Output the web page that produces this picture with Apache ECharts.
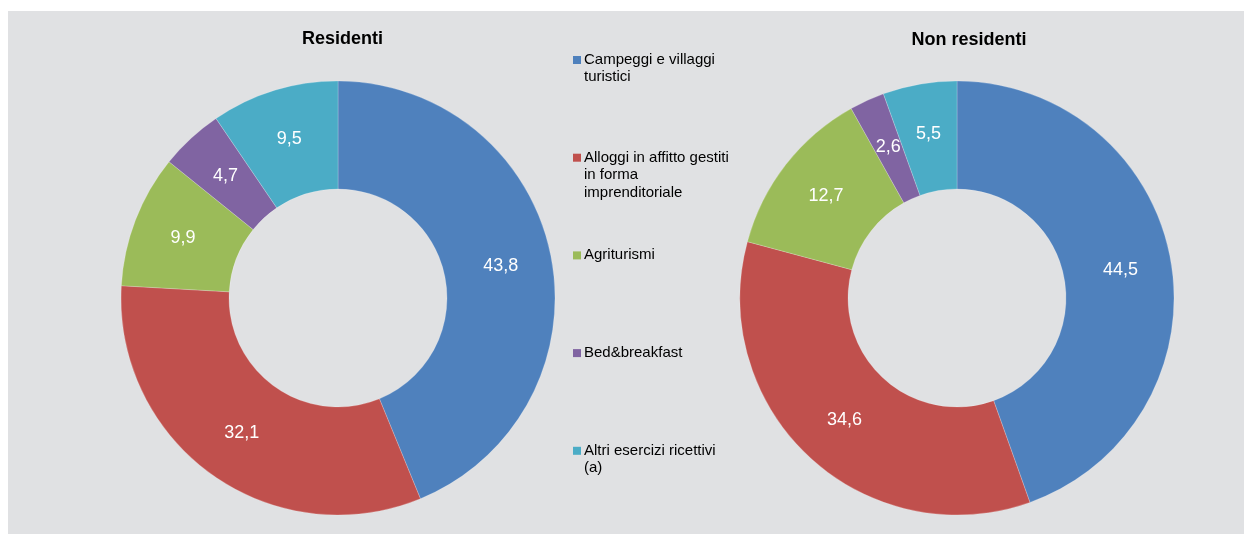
<!DOCTYPE html>
<html>
<head>
<meta charset="utf-8">
<script src="https://cdn.jsdelivr.net/npm/echarts@6/dist/echarts.min.js"></script>
<style>
  html, body { margin: 0; padding: 0; background: #ffffff; }
  #wrap { position: relative; width: 1244px; height: 534px; background: #ffffff; overflow: hidden; }
  #bg { position: absolute; left: 8px; top: 11px; right: 0; bottom: 0; background: #e0e1e3; }
  #chart { position: absolute; left: 0; top: 0; width: 1244px; height: 534px; }
</style>
</head>
<body>
<div id="wrap"><div id="bg"></div><div id="chart"></div></div>
<script>
var categories = [
  "Campeggi e villaggi turistici",
  "Alloggi in affitto gestiti in forma imprenditoriale",
  "Agriturismi",
  "Bed&breakfast",
  "Altri esercizi ricettivi (a)"
];
var legendLabels = [
  "Campeggi e villaggi\nturistici",
  "Alloggi in affitto gestiti\nin forma\nimprenditoriale",
  "Agriturismi",
  "Bed&breakfast",
  "Altri esercizi ricettivi\n(a)"
];
var residenti = [43.8, 32.1, 9.9, 4.7, 9.5];
var nonResidenti = [44.5, 34.6, 12.7, 2.6, 5.5];
var titles = ["Residenti", "Non residenti"];

var colors = ["#4f81bd", "#c0504d", "#9bbb59", "#8064a2", "#4bacc6"];
var FONT = "'Liberation Sans', Arial, Helvetica, sans-serif";

function toData(vals) {
  return vals.map(function (v, i) { return { name: categories[i], value: v }; });
}

function pieSeries(vals, cx) {
  return {
    type: 'pie',
    center: [cx, 298],
    radius: [109, 217],
    startAngle: 90,
    clockwise: true,
    avoidLabelOverlap: false,
    silent: true,
    itemStyle: { borderColor: 'rgba(255,255,255,0.35)', borderWidth: 0.6 },
    label: {
      show: true,
      position: 'inside',
      color: '#ffffff',
      fontSize: 18,
      fontFamily: FONT,
      formatter: function (p) { return p.value.toFixed(1).replace('.', ','); }
    },
    labelLine: { show: false },
    emphasis: { disabled: true },
    data: toData(vals)
  };
}

var graphics = [];
graphics.push({
  type: 'text', x: 342.5, y: 39,
  style: { text: titles[0], font: 'bold 18px ' + FONT, fill: '#000', align: 'center', verticalAlign: 'middle' }
});
graphics.push({
  type: 'text', x: 969, y: 40,
  style: { text: titles[1], font: 'bold 18px ' + FONT, fill: '#000', align: 'center', verticalAlign: 'middle' }
});
legendLabels.forEach(function (lab, i) {
  var top = 56 + i * 97.7;
  graphics.push({
    type: 'rect', shape: { x: 573, y: top, width: 8, height: 8 },
    style: { fill: colors[i] }
  });
  graphics.push({
    type: 'text', x: 584, y: top - 5,
    style: { text: lab, font: '15px ' + FONT, lineHeight: 17.5, fill: '#000', align: 'left', verticalAlign: 'top' }
  });
});

var chart = echarts.init(document.getElementById('chart'), null, { renderer: 'canvas' });
chart.setOption({
  backgroundColor: 'transparent',
  animation: false,
  color: colors,
  textStyle: { fontFamily: FONT },
  graphic: graphics,
  series: [pieSeries(residenti, 338), pieSeries(nonResidenti, 957)]
});
</script>
</body>
</html>
